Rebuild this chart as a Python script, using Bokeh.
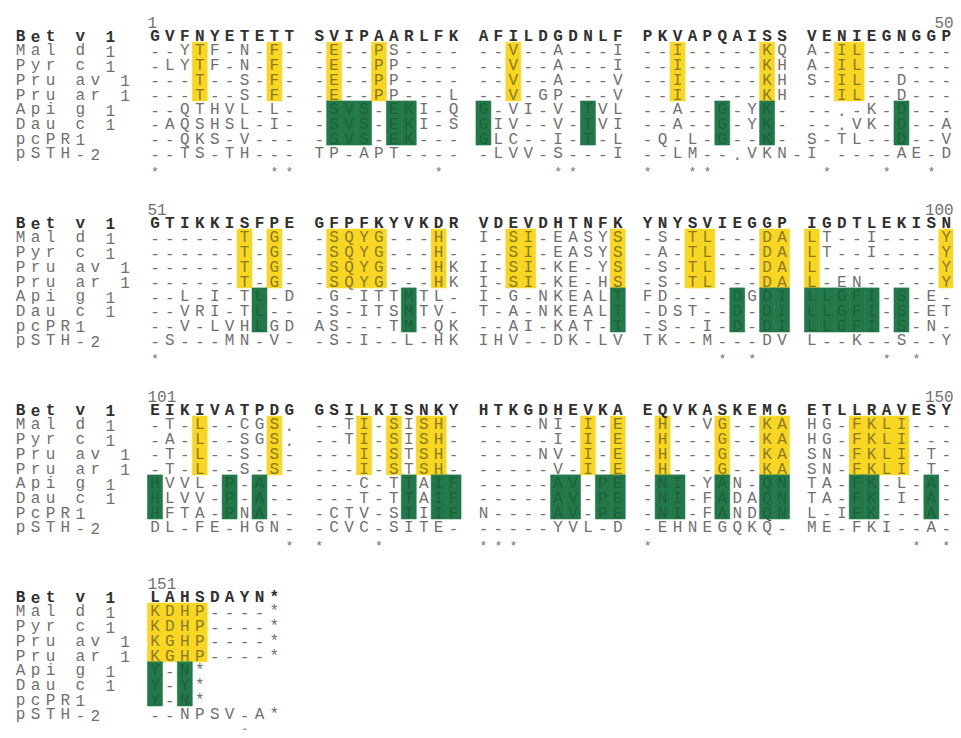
from bokeh.plotting import figure
from bokeh.models import Range1d, ColumnDataSource
from bokeh.core.properties import value
from bokeh.embed import file_html
from bokeh.resources import INLINE

# ---------------- data ----------------
names = ["Bet v 1", "Mal d 1", "Pyr c 1", "Pru av 1", "Pru ar 1",
         "Api g 1", "Dau c 1", "pcPR1", "pSTH-2"]
names_block3 = ["Bet v 1", "Mal d 1", "Pyr c 1", "Pru av 1", "Pru ar 1",
                "Api g 1", "Dau c 1", "PcPR1", "pSTH-2"]

block1 = [
    "GVFNYETETT SVIPAARLFK AFILDGDNLF PKVAPQAISS VENIEGNGGP",
    "--YTF-N-F- -E--PS---- --V--A---I --I-----KQ A-IL------",
    "-LYTF-N-F- -E--PP---- --V--A---I --I-----KH A-IL------",
    "---T--S-F- -E--PP---- --V--A---V --I-----KH S-IL--D---",
    "---T--S-F- -E--PP---L --V-GP---V --I-----KH --IL--D---",
    "--QTHVL-L- -SVS-EKI-Q G-VI-V-TVL --A--G-YK- --.-K-D---",
    "-AQSHSL-I- -SVS-EKI-S GIV--V-TVI --A--G-YK- --.VK-D--A",
    "--QKS-V--- -SVS-EK--- GLC--I-T-L -Q-L-G--K- S-TL--D--V",
    "--TS-TH--- TP-APT---- -LVV-S---I --LM--.VKN-I ----AE-D",
]
block2 = [
    "GTIKKISFPE GFPFKYVKDR VDEVDHTNFK YNYSVIEGGP IGDTLEKISN",
    "------T-G- -SQYG---H- I-SI-EASYS -S-TL---DA LT--I----Y",
    "------T-G- -SQYG---H- --SI-EASYS -A-TL---DA LT--I----Y",
    "------T-G- -SQYG---HK I-SI-KE-YS -S-TL---DA L--------Y",
    "------T-G- -SQYG---HK I-SI-KE-HS -S-TL---DA L-EN-----Y",
    "--L-I-TL-D -G-ITTMTL- I-G-NKEALT FD----DGDI LLGFI-S-E-",
    "--VRI-TL-- -S-ITSMTV- T-A-NKEALT -DST--D-DI LLGFI-S-ET",
    "--V-LVHLGD AS---TM-QK --AI-KAT-T -S--I-D-DI LLGFI-S-N-",
    "-S---MN-V- -S-I--L-HK IHV--DK-LV TK--M---DV L--K--S--Y",
]
block3 = [
    "EIKIVATPDG GSILKISNKY HTKGDHEVKA EQVKASKEMG ETLLRAVESY",
    "-T-L--CGS. --TI-SISH- ----NI-I-E -H--VG--KA HG-FKLI---",
    "-A-L--SGS. --TI-SISH- -----I-I-E -H---G--KA HG-FKLI---",
    "-T-L--S-S- ---I-STSH- ----NV-I-E -H---G--KA SN-FKLI-T-",
    "-T-L--S-S- ---I-STSH- -----V-I-E -H---G--KA SN-FKLI-T-",
    "HVVL-P-A-- ---C-TTAIF -----AV-PE -NI-YAN-QN TA-FK-L-A-",
    "HLVV-P-A-- ---T-TTAIF -----AV-PE -NI-FADAQN TA-FK-I-A-",
    "HFTA-PNA-- -CTV-STIIF N----AV-PE -NI-FANDQN L-IFK---A-",
    "DL-FE-HGN- -CVC-SITE- -----YVL-D -EHNEGQKQ- ME-FKI--A-",
]
block4 = [
    "LAHSDAYN*",
    "KDHP----*",
    "KDHP----*",
    "KGHP----*",
    "KGHP----*",
    "Y-N*",
    "Y-Y*",
    "Y-N*",
    "--NPSV-A*",
]

block_first = ["1", "51", "101", "151"]
block_last = ["50", "100", "150", ""]

# residue numbers highlighted in the Rosaceae rows (yellow)
yellow_positions = [4, 9, 12, 15, 23, 33, 39, 43, 44,
                    57, 59, 62, 63, 64, 65, 69, 73, 74, 80, 84, 85, 89, 90, 91, 100,
                    104, 109, 114, 116, 118, 119, 128, 130, 132, 136, 139, 140,
                    144, 145, 146, 147,
                    151, 152, 153, 154]
# residue numbers highlighted in the Apiaceae rows (green)
green_positions = [12, 13, 14, 16, 17, 21, 28, 36, 39, 47,
                   58, 67, 80, 87, 89, 90, 91, 92, 93, 94, 95, 97,
                   101, 106, 108, 117, 119, 120, 126, 127, 129, 130,
                   132, 133, 136, 139, 140, 144, 145, 149,
                   151, 153]
# conservation marks
star_positions = [1, 9, 10, 19, 26, 27, 31, 34, 35, 42, 46, 49,
                  51, 86, 88, 96, 98,
                  110, 111, 115, 121, 122, 123, 131, 148, 150,
                  157]

# ---------------- layout constants ----------------
BLOCK = 12.72
GREY = "#707070"
DARK = "#303030"
YELLOW = "#F8D622"
GREEN = "#23784A"
ON_YELLOW = "#8a7a22"
ON_GREEN = "#1b6239"
FONT = value("Liberation Mono")
FS = "16px"


def col_of(n):
    p = (n - 1) % 50
    return (p // 10) * 11 + p % 10


def blk_of(n):
    return (n - 1) // 50


yset = {(blk_of(n), col_of(n)) for n in yellow_positions}
gset = {(blk_of(n), col_of(n)) for n in green_positions}

p = figure(width=953, height=730, x_range=Range1d(-9.846, 53.985),
           y_range=Range1d(48.33, -1.333), output_backend="svg",
           toolbar_location=None, min_border=0,
           x_axis_location=None, y_axis_location=None)
p.grid.visible = False
p.outline_line_color = None
p.background_fill_color = "white"

# highlight boxes
yx, yy = [], []
for (b, c) in sorted(yset):
    yx.append(c + 0.5)
    yy.append(b * BLOCK + 3.5)
p.rect(x=yx, y=yy, width=1.0, height=4.0, fill_color=YELLOW,
       line_color=YELLOW, line_width=0.6)
gx, gy = [], []
for (b, c) in sorted(gset):
    gx.append(c + 0.5)
    gy.append(b * BLOCK + 7.0)
p.rect(x=gx, y=gy, width=1.0, height=3.0, fill_color=GREEN,
       line_color=GREEN, line_width=0.6)

blocks = [block1, block2, block3, block4]
label_sets = [names, names, names_block3, names]

normal = dict(x=[], y=[], text=[], color=[])
bold = dict(x=[], y=[], text=[], color=[])

for b, rows in enumerate(blocks):
    base = b * BLOCK
    for r, s in enumerate(rows):
        yrow = base + 1 + r
        tgt = bold if r == 0 else normal
        basecol = DARK if r == 0 else GREY
        for i, ch in enumerate(label_sets[b][r]):
            if ch != " ":
                tgt["x"].append(-9 + i + 0.5)
                tgt["y"].append(yrow)
                tgt["text"].append(ch)
                tgt["color"].append(basecol)
        for c, ch in enumerate(s):
            if ch == " ":
                continue
            col = basecol
            if 1 <= r <= 4 and (b, c) in yset:
                col = ON_YELLOW
            if 5 <= r <= 7 and (b, c) in gset:
                col = ON_GREEN
            tgt["x"].append(c + 0.5)
            tgt["y"].append(yrow)
            tgt["text"].append(ch)
            tgt["color"].append(col)

p.text(x="x", y="y", text="text", text_color="color",
       source=ColumnDataSource(normal), text_align="center",
       text_baseline="middle", text_font=FONT, text_font_size=FS, y_offset=2)
p.text(x="x", y="y", text="text", text_color="color",
       source=ColumnDataSource(bold), text_align="center",
       text_baseline="middle", text_font=FONT, text_font_size=FS,
       text_font_style="bold", y_offset=2)

# position numbers
nx, ny, nt = [], [], []
for b in range(4):
    nx.append(0.0)
    ny.append(b * BLOCK)
    nt.append(block_first[b])
p.text(x=nx, y=ny, text=nt, text_align="left", text_baseline="middle",
       text_font=FONT, text_font_size=FS, text_color=GREY, y_offset=2)
ex, ey, et = [], [], []
for b in range(4):
    if block_last[b]:
        ex.append(54.0)
        ey.append(b * BLOCK)
        et.append(block_last[b])
p.text(x=ex, y=ey, text=et, text_align="right", text_baseline="middle",
       text_font=FONT, text_font_size=FS, text_color=GREY, y_offset=2)

# conservation marks
sx, sy = [], []
for n in star_positions:
    sx.append(col_of(n) + 0.5)
    sy.append(blk_of(n) * BLOCK + 10)
p.text(x=sx, y=sy, text=["*"] * len(sx), text_align="center",
       text_baseline="middle", text_font=FONT, text_font_size="13px",
       text_color=GREY, y_offset=5)

open("out.html", "w").write(file_html(p, INLINE))
